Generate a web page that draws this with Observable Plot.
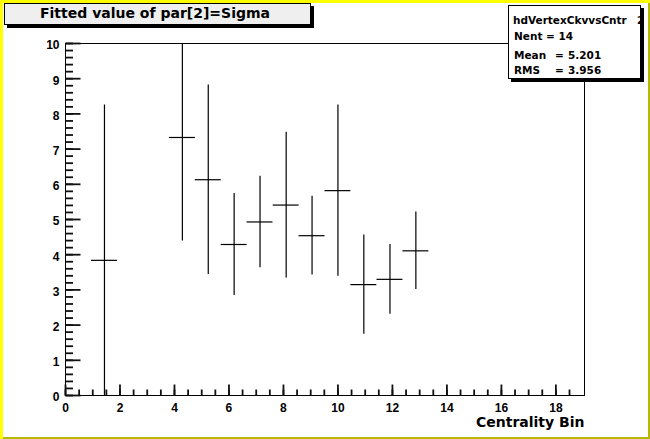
<!DOCTYPE html>
<html>
<head>
<meta charset="utf-8">
<script src="https://cdn.jsdelivr.net/npm/d3@7"></script>
<script src="https://cdn.jsdelivr.net/npm/@observablehq/plot@0.6"></script>
<style>
  body { margin: 0; background: #fff; }
  #wrap { position: relative; width: 650px; height: 439px; background: #fff; overflow: hidden;
          box-shadow: inset 3px 3px 0 #ffff00, inset -2px -2px 0 #b8b800; }
  #chart { position: absolute; left: 0; top: 0; }
  #title { position: absolute; left: 4px; top: 3px; width: 305px; height: 20px; background: #efefef;
           border: 1px solid #000; box-shadow: 3px 3px 0 #000; box-sizing: content-box;
           font: bold 14px "DejaVu Sans", sans-serif; color: #000; }
  #title span { position: absolute; left: 35px; top: 1px; white-space: pre; }
  #stats { position: absolute; left: 508px; top: 5px; width: 131px; height: 72px; background: #fff;
           border: 1px solid #000; box-shadow: 3px 3px 0 #000; overflow: hidden;
           font: bold 10.5px "DejaVu Sans", sans-serif; line-height: normal; color: #000; }
  #stats div { position: absolute; white-space: pre; }
</style>
</head>
<body>
<div id="wrap">
  <div id="chart"></div>
  <div id="title"><span></span></div>
  <div id="stats"></div>
</div>
<script>
// ---- data ----
const binCenters = [1.43, 4.29, 5.24, 6.19, 7.14, 8.10, 9.05, 10.0, 10.95, 11.91, 12.86];
const sigmaValues = [3.84, 7.33, 6.13, 4.29, 4.93, 5.41, 4.54, 5.82, 3.15, 3.30, 4.11];
const sigmaErrors = [4.41, 2.94, 2.69, 1.45, 1.30, 2.07, 1.12, 2.43, 1.41, 0.99, 1.10];
const binWidth = 0.9525;
const xMajorTicks = [0, 2, 4, 6, 8, 10, 12, 14, 16, 18];
const yMajorTicks = [0, 1, 2, 3, 4, 5, 6, 7, 8, 9, 10];
const titleText = "Fitted value of par[2]=Sigma";
const xAxisTitle = "Centrality Bin";
const statsName = "hdVertexCkvvsCntr";
const statsSuffix = "2";
const statsLabels = ["Nent = 14", "Mean", "RMS"];
const statsValues = ["", "5.201", "3.956"];

const xMax = 19.05, yMax = 10;
const xMinorTicks = d3.range(0, 38).map(i => i * 0.5);
const yMinorTicks = d3.range(0, 51).map(i => i * 0.2);

const rows = binCenters.map((x, i) => ({
  x, y: sigmaValues[i], lo: sigmaValues[i] - sigmaErrors[i], hi: sigmaValues[i] + sigmaErrors[i]
}));

const W = 650, H = 439, mL = 65, mR = 66, mT = 43, mB = 44;
const plotW = W - mL - mR, plotH = H - mT - mB;
// tick lengths in pixels, converted to scale units (ROOT-style inward ticks)
const xPerPx = xMax / plotW, yPerPx = yMax / plotH;
const tickFont = {fontFamily: "Liberation Sans, Arial, sans-serif", fontSize: 12, fontWeight: "bold", fill: "#000"};

const tickRows = [
  ...yMinorTicks.map(v => ({axis: "y", v, len: 7.5})),
  ...yMajorTicks.map(v => ({axis: "y", v, len: 15})),
  ...xMinorTicks.map(v => ({axis: "x", v, len: 6})),
  ...xMajorTicks.map(v => ({axis: "x", v, len: 11}))
];

const chart = Plot.plot({
  width: W,
  height: H,
  marginLeft: mL,
  marginRight: mR,
  marginTop: mT,
  marginBottom: mB,
  style: {background: "transparent", color: "#000", fontFamily: "Liberation Sans, Arial, sans-serif"},
  x: {domain: [0, xMax]},
  y: {domain: [0, yMax]},
  marks: [
    Plot.frame({stroke: "#000"}),
    Plot.link(tickRows, {
      x1: d => d.axis === "y" ? 0 : d.v,
      x2: d => d.axis === "y" ? d.len * xPerPx : d.v,
      y1: d => d.axis === "y" ? d.v : 0,
      y2: d => d.axis === "y" ? d.v : d.len * yPerPx,
      stroke: "#111", strokeWidth: 1.8
    }),
    Plot.axisY({ticks: yMajorTicks, tickSize: 0, tickPadding: 6, label: null, dy: 2, ...tickFont}),
    Plot.axisX({ticks: xMajorTicks, tickSize: 0, tickPadding: 8, label: null, ...tickFont}),
    Plot.text([xAxisTitle], {frameAnchor: "bottom-right", dy: 31, textAnchor: "end", lineAnchor: "bottom",
      fontFamily: "DejaVu Sans, sans-serif", fontSize: 14, fontWeight: "bold", fill: "#000"}),
    Plot.ruleX(rows, {x: "x", y1: "lo", y2: "hi", stroke: "#000", strokeWidth: 1.2, clip: true}),
    Plot.ruleY(rows, {y: "y", x1: d => d.x - binWidth / 2, x2: d => d.x + binWidth / 2, stroke: "#000", strokeWidth: 1.2, clip: true})
  ]
});
document.getElementById("chart").append(chart);

document.querySelector("#title span").textContent = titleText;

const stats = document.getElementById("stats");
const lineTops = [8.3, 23.6, 42.6, 57.6];
function addLine(text, left, top) {
  const d = document.createElement("div");
  d.textContent = text;
  d.style.left = left + "px";
  d.style.top = top + "px";
  stats.append(d);
}
addLine(statsName, 4, lineTops[0]);
addLine(statsSuffix, 128, lineTops[0]);
statsLabels.forEach((t, i) => {
  addLine(t, 5, lineTops[i + 1]);
  if (statsValues[i]) {
    addLine("=", 46, lineTops[i + 1]);
    addLine(statsValues[i], 59, lineTops[i + 1]);
  }
});
</script>
</body>
</html>
